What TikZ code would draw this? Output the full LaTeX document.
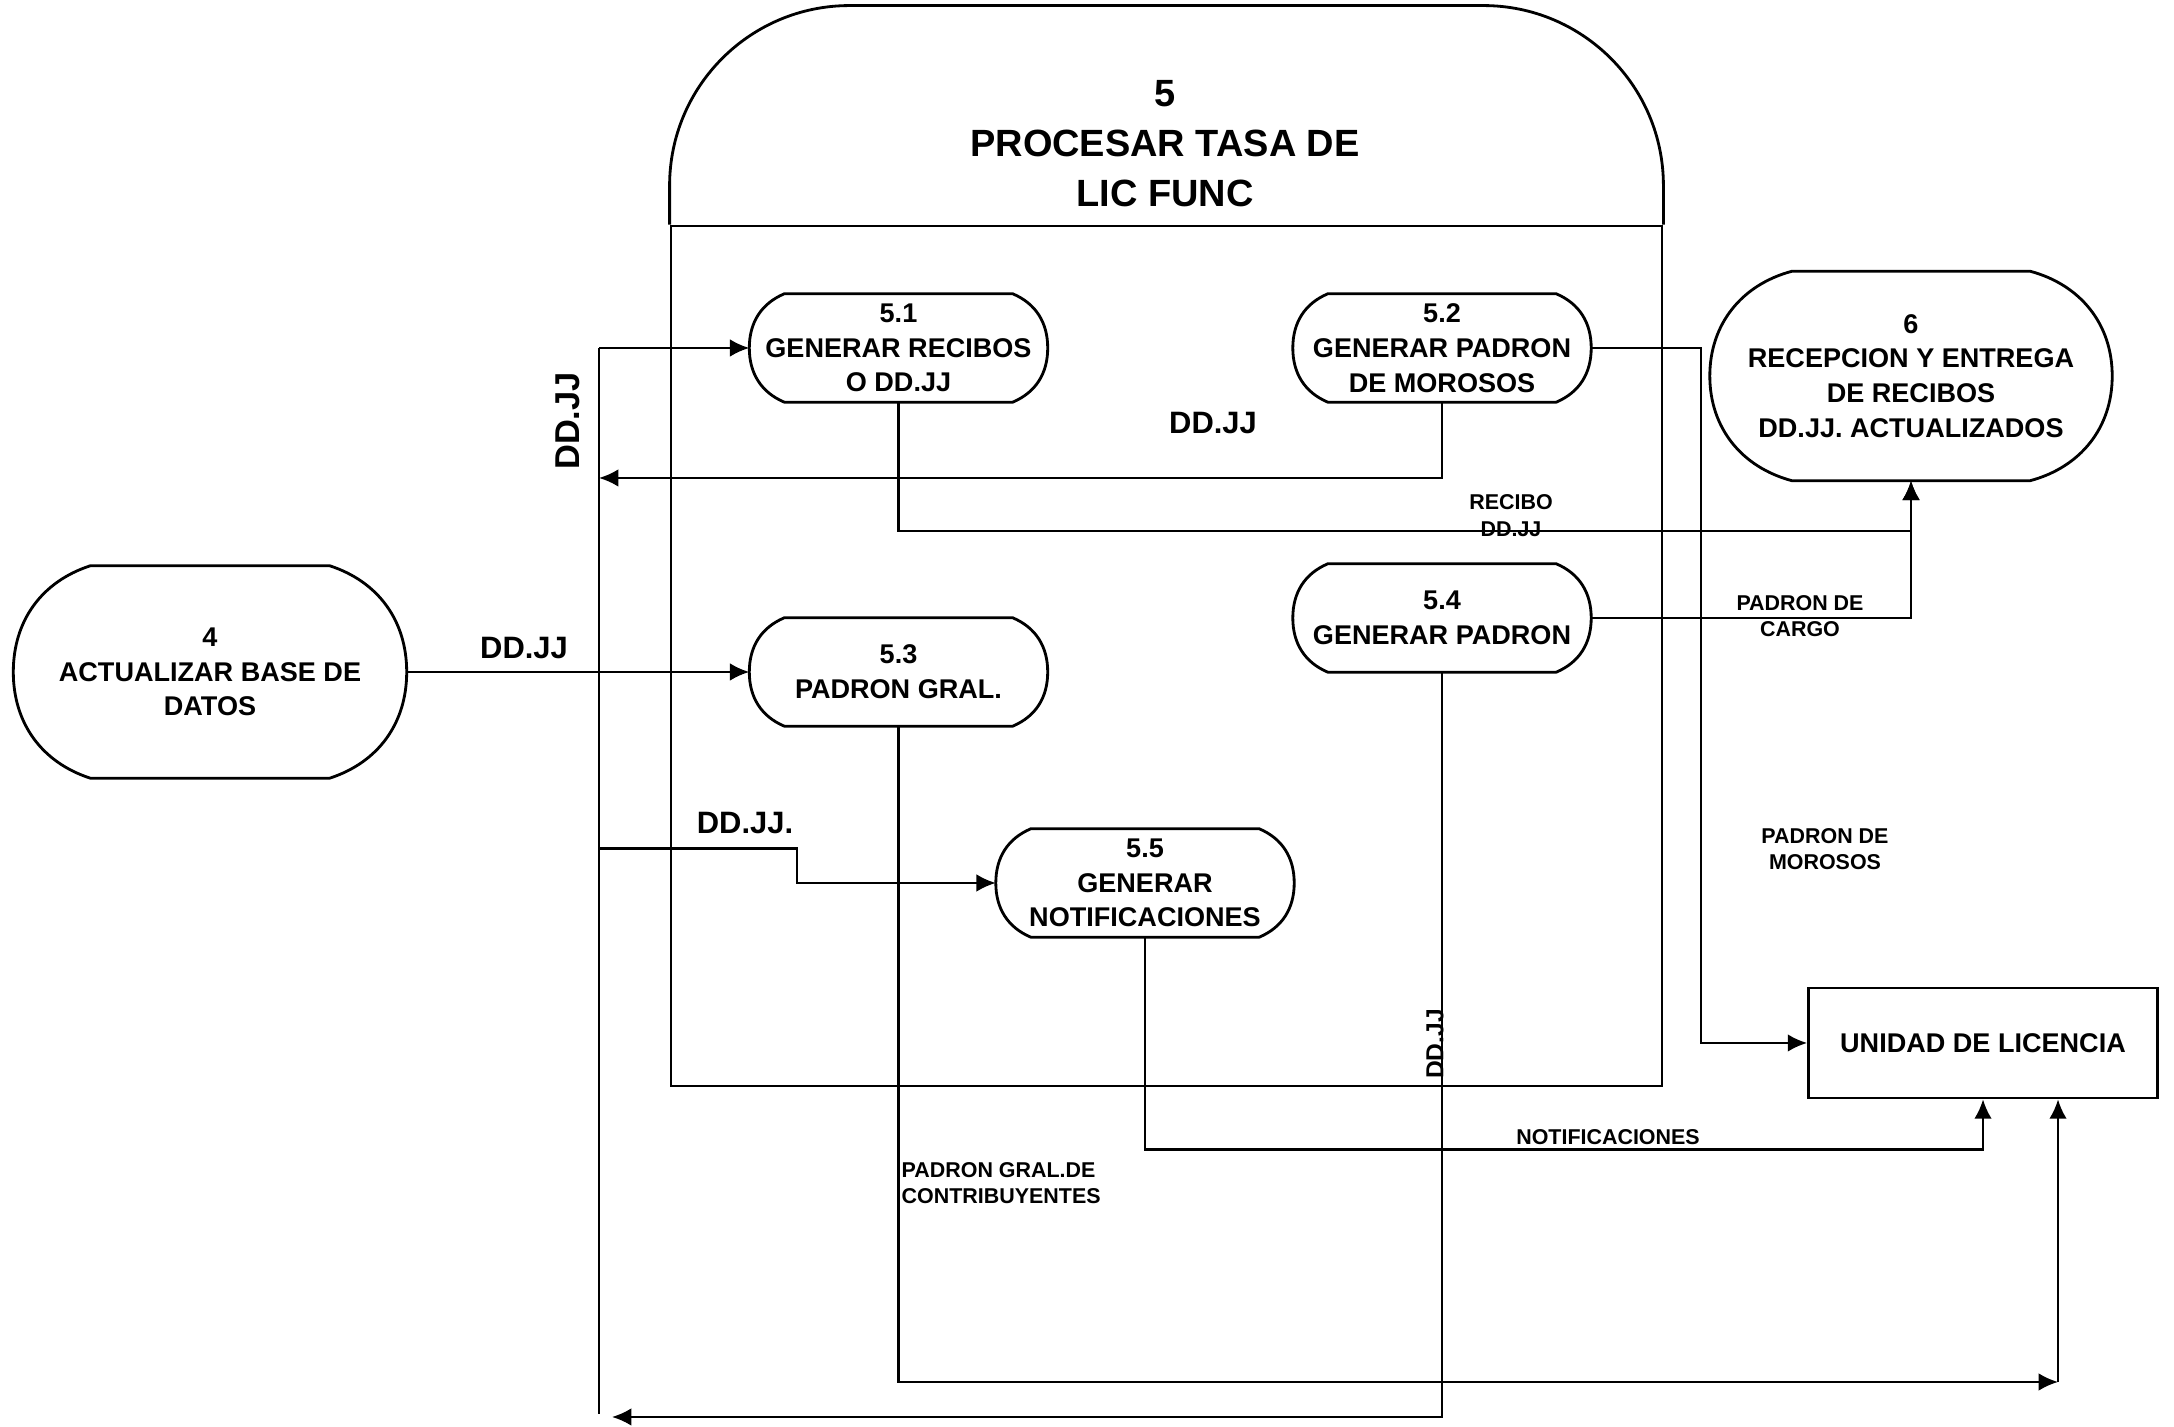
\documentclass[tikz,border=0pt]{standalone}
\usepackage{fontspec}
\setmainfont{Liberation Sans}
\usetikzlibrary{arrows.meta, calc}

\tikzstyle{proc} = [rectangle, minimum width=2.97cm, minimum height=1.07cm, inner sep=0pt, align=center, font=\bfseries\fontsize{7.7}{9.9}\selectfont]
\tikzstyle{bigproc} = [proc, minimum width=3.92cm, minimum height=2.11cm]
\tikzstyle{entity} = [rectangle, draw=black, line width=0.8pt, minimum width=3.49cm, minimum height=1.1cm, font=\bfseries\fontsize{7.7}{9.9}\selectfont]
\tikzstyle{shapeline} = [line width=0.8pt]
\tikzstyle{flowline} = [line width=0.65pt]
\tikzstyle{arrow} = [line width=0.65pt, ->, >={Latex[length=5.5pt,width=5pt]}]
\tikzstyle{biglabel} = [inner sep=0pt, font=\bfseries\fontsize{8.8}{10}\selectfont]
\tikzstyle{smalllabel} = [inner sep=0pt, align=center, font=\bfseries\fontsize{6.1}{7.6}\selectfont]

% outline of a terminator-like process: node, bulge of the ends, corner angle
\newcommand{\termline}[3]{%
  \pgfmathsetmacro{\termouta}{180-#3}%
  \pgfmathsetmacro{\termina}{180+#3}%
  \draw[shapeline] ([xshift=#2]#1.north west) -- ([xshift=-#2]#1.north east)
    to[out=-#3,in=90] (#1.east) to[out=-90,in=#3] ([xshift=-#2]#1.south east)
    -- ([xshift=#2]#1.south west) to[out=\termouta,in=-90] (#1.west)
    to[out=90,in=\termina] ([xshift=#2]#1.north west) -- cycle;}

\begin{document}
\begin{tikzpicture}
\useasboundingbox (0,0) rectangle (21.74,14.27);

% process 5 frame
\node (p5box) [draw, line width=0.8pt, minimum width=9.91cm, minimum height=8.6cm, inner sep=0pt] at (11.665,7.71) {};
\draw[shapeline, rounded corners=1.8cm] (p5box.north west) -- ++(0,2.19) -| (p5box.north east);
\node (p5title) [align=center, font=\bfseries\fontsize{10.8}{14.2}\selectfont] at (11.65,12.83) {5\\PROCESAR TASA DE\\LIC FUNC};

% processes
\node (p51) [proc] at (8.985,10.79) {5.1\\GENERAR RECIBOS\\O DD.JJ};
\node (p52) [proc] at (14.42,10.79) {5.2\\GENERAR PADRON\\DE MOROSOS};
\node (p53) [proc] at (8.985,7.55) {5.3\\PADRON GRAL.};
\node (p54) [proc] at (14.42,8.09) {5.4\\GENERAR PADRON};
\node (p55) [proc] at (11.45,5.44) {5.5\\GENERAR\\NOTIFICACIONES};
\node (p4) [bigproc] at (2.10,7.55) {4\\ACTUALIZAR BASE DE\\DATOS};
\node (p6) [bigproc, minimum width=4.01cm, minimum height=2.08cm] at (19.11,10.51) {6\\RECEPCION Y ENTREGA\\DE RECIBOS\\DD.JJ. ACTUALIZADOS};
\node (unidad) [entity] at (19.83,3.84) {UNIDAD DE LICENCIA};

\termline{p51}{0.35cm}{23}
\termline{p52}{0.35cm}{23}
\termline{p53}{0.35cm}{23}
\termline{p54}{0.35cm}{23}
\termline{p55}{0.35cm}{23}
\termline{p4}{0.77cm}{18}
\termline{p6}{0.82cm}{15}

% DD.JJ loop on the left
\coordinate (busTop) at (5.99,10.79);
\coordinate (busIn) at (5.99,9.49);
\coordinate (busOut) at (5.99,5.785);
\coordinate (busBot) at (5.99,0.13);
\coordinate (busEnd) at (6.12,0.10);
\coordinate (bend55) at (7.97,5.785);
\draw[flowline] (busBot) -- (busTop);
\draw[arrow] (busTop) -- (p51.west);
\draw[arrow] (p52.south) |- (busIn);
\draw[arrow] (busOut) -- (bend55) |- (p55.west);
\draw[arrow] (p54.south) |- (busEnd);

% flows
\draw[arrow] (p4.east) -- (p53.west);
\draw[arrow] (p51.south) |- ([yshift=-0.5cm]p6.south) -- (p6.south);
\draw[arrow] (p54.east) -| (p6.south);
\draw[arrow] (p52.east) -- ++(1.095,0) |- (unidad.west);
\draw[arrow] (p55.south) |- ([yshift=-0.5cm]unidad.south) -- (unidad.south);
\coordinate (gralEnd) at (20.58,0.45);
\draw[arrow] (p53.south) |- (gralEnd);
\draw[arrow] (gralEnd) -- (gralEnd |- unidad.south);

% labels
\node (lblIn) [biglabel] at (5.24,7.79) {DD.JJ};
\node (lblMid) [biglabel] at (12.13,10.04) {DD.JJ};
\node (lblNot) [biglabel] at (7.45,6.04) {DD.JJ.};
\node (lblBus) [biglabel, rotate=90, font=\bfseries\fontsize{9.8}{10}\selectfont] at (5.68,10.06) {DD.JJ};
\node (lblBot) [biglabel, rotate=90, font=\bfseries\fontsize{7}{8}\selectfont] at (14.35,3.83) {DD.JJ};
\node (lblRecibo) [smalllabel] at (15.11,9.11) {RECIBO\\DD.JJ};
\node (lblCargo) [smalllabel] at (18.00,8.11) {PADRON DE\\CARGO};
\node (lblMorosos) [smalllabel] at (18.25,5.78) {PADRON DE\\MOROSOS};
\node (lblNotif) [smalllabel] at (16.08,2.90) {NOTIFICACIONES};
\node (lblGral) [smalllabel, align=left, anchor=west] at (9.01,2.44) {PADRON GRAL.DE\\CONTRIBUYENTES};

\end{tikzpicture}
\end{document}
